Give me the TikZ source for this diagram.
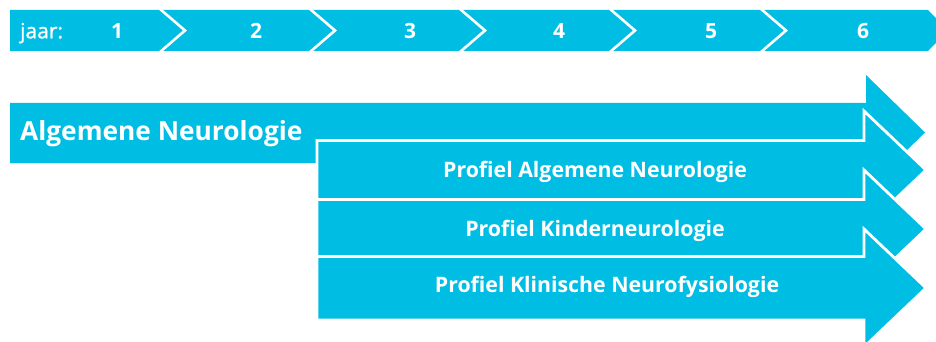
\documentclass[tikz,border=0pt]{standalone}
\usepackage{fontspec}
\setmainfont{Open Sans}
\newfontfamily\medfont[FakeBold=1.2]{Open Sans}
\usetikzlibrary{positioning}

\definecolor{neuroblue}{RGB}{0,189,228}

\begin{document}
\begin{tikzpicture}[x=1pt,y=-1pt]

% --- Define Styles ---
\tikzset{bar/.style={fill=neuroblue, draw=none}}
\tikzset{sep/.style={draw=white, line width=2.6pt, line join=miter}}
\tikzset{yearlabel/.style={text=white, font=\bfseries\fontsize{21}{24}\selectfont, inner sep=0pt, anchor=base}}
\tikzset{track/.style={fill=neuroblue, draw=white, line width=2.8pt, line join=miter}}
\tikzset{tracklabel/.style={text=white, font=\bfseries\fontsize{21.3}{25}\selectfont, inner sep=0pt, anchor=base}}

\useasboundingbox (0,0) rectangle (936,342);
\clip (0,0) rectangle (936,342);

% --- Year bar ---
\path[bar] (10,10) -- (928,10) -- (948,30.5) -- (928,51) -- (10,51) -- cycle;
\foreach \x in {160,310,460,610,761}
  \draw[sep] (\x,9) -- (\x+25,30.5) -- (\x,52);

\node (jaar) [yearlabel, anchor=base west, font=\medfont\fontsize{21}{24}\selectfont] at (20,38.3) {jaar:};
\node (y1) [yearlabel] at (117,38.3) {1};
\node (y2) [yearlabel] at (256,38.3) {2};
\node (y3) [yearlabel] at (410,38.3) {3};
\node (y4) [yearlabel] at (559,38.3) {4};
\node (y5) [yearlabel] at (711,38.3) {5};
\node (y6) [yearlabel] at (863,38.3) {6};

% --- Tracks ---
\path[bar] (10,103) -- (866,103) -- (866,75) -- (925,132.5) -- (866,190) -- (866,163) -- (10,163) -- cycle;
\path[track] (317,140.5) -- (864,140.5) -- (864,111) -- (926,170) -- (864,229) -- (864,199.5) -- (317,199.5) -- cycle;
\path[track] (317,199.5) -- (864,199.5) -- (864,170) -- (926,229) -- (864,288) -- (864,256.5) -- (317,256.5) -- cycle;
\path[track] (317,256.5) -- (864,256.5) -- (864,229) -- (926,288) -- (864,347) -- (864,320) -- (317,320) -- cycle;

% --- Labels ---
\node (algemeen) [tracklabel, anchor=base west, font=\bfseries\fontsize{26.3}{30}\selectfont] at (20,140) {Algemene Neurologie};
\node (profalg) [tracklabel] at (595,177.5) {Profiel Algemene Neurologie};
\node (profkind) [tracklabel] at (595,236.5) {Profiel Kinderneurologie};
\node (profklin) [tracklabel] at (607,292.5) {Profiel Klinische Neurofysiologie};

\end{tikzpicture}
\end{document}
